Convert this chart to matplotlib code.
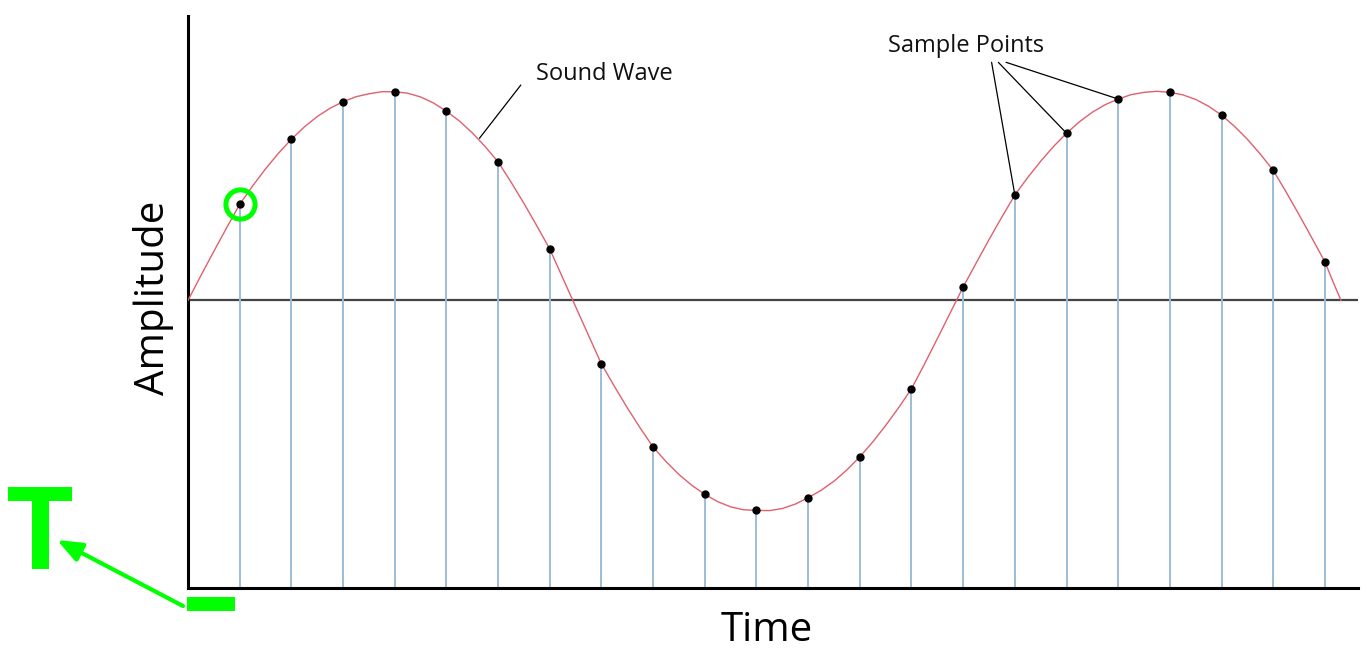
import matplotlib
matplotlib.use("Agg")
import matplotlib.pyplot as plt
from matplotlib.patches import Rectangle, FancyArrowPatch

plt.rcParams['font.family'] = ['Open Sans', 'DejaVu Sans']

# ---- data (time in sample units, amplitude relative to peak) ----
sample_times = [1, 2, 3, 4, 5, 6, 7, 8, 9, 10, 11, 12, 13, 14, 15, 16, 17, 18, 19, 20, 21, 22]
sample_amps = [0.460, 0.772, 0.952, 1.000, 0.907, 0.664, 0.246, -0.305, -0.703, -0.930, -1.007,
               -0.946, -0.750, -0.424, 0.064, 0.505, 0.801, 0.965, 0.997, 0.888, 0.623, 0.184]

# continuous sound wave, read at quarter-sample steps
wave_times = [0, 0.25, 0.5, 0.75, 1, 1.25, 1.5, 1.75, 2, 2.25, 2.5, 2.75, 3, 3.25, 3.5, 3.75,
              4, 4.25, 4.5, 4.75, 5, 5.25, 5.5, 5.75, 6, 6.25, 6.5, 6.75, 7, 7.25, 7.5, 7.75,
              8, 8.25, 8.5, 8.75, 9, 9.25, 9.5, 9.75, 10, 10.25, 10.5, 10.75, 11, 11.25, 11.5,
              11.75, 12, 12.25, 12.5, 12.75, 13, 13.25, 13.5, 13.75, 14, 14.25, 14.5, 14.75,
              15, 15.25, 15.5, 15.75, 16, 16.25, 16.5, 16.75, 17, 17.25, 17.5, 17.75, 18,
              18.25, 18.5, 18.75, 19, 19.25, 19.5, 19.75, 20, 20.25, 20.5, 20.75, 21, 21.25,
              21.5, 21.75, 22, 22.15, 22.31]
wave_amps = [0.0, 0.119, 0.235, 0.349, 0.460, 0.548, 0.630, 0.705, 0.772, 0.831, 0.881, 0.921,
             0.952, 0.976, 0.990, 1.000, 1.000, 0.993, 0.975, 0.946, 0.907, 0.860, 0.803, 0.737,
             0.664, 0.567, 0.465, 0.357, 0.246, 0.108, -0.030, -0.168, -0.305, -0.412, -0.515,
             -0.612, -0.703, -0.773, -0.835, -0.887, -0.930, -0.965, -0.990, -1.004, -1.007,
             -1.008, -0.998, -0.977, -0.946, -0.911, -0.867, -0.813, -0.750, -0.679, -0.600,
             -0.515, -0.424, -0.306, -0.184, -0.060, 0.064, 0.178, 0.291, 0.400, 0.505, 0.589,
             0.667, 0.738, 0.801, 0.856, 0.902, 0.938, 0.965, 0.986, 0.997, 1.002, 0.997, 0.985,
             0.963, 0.930, 0.888, 0.834, 0.772, 0.701, 0.623, 0.519, 0.410, 0.298, 0.184, 0.093,
             0.0]

highlight_index = 0
sound_label = "Sound Wave"
samples_label = "Sample Points"
samples_pointed = [15, 16, 17]  # indices of samples the label points to
x_label = "Time"
y_label = "Amplitude"

xlim = (0, 22.64)
ylim = (-1.379, 1.363)

W, H = 1368, 654
fig = plt.figure(figsize=(W / 100, H / 100), dpi=100)
fig.patch.set_facecolor('white')


def fx(px):
    return px / W


def fy(py):
    return 1 - py / H


ax = fig.add_axes([fx(188), fy(588), (1358 - 188) / W, (588 - 16) / H])
ax.set_xlim(*xlim)
ax.set_ylim(*ylim)
for s in ['top', 'right']:
    ax.spines[s].set_visible(False)
for s in ['left', 'bottom']:
    ax.spines[s].set_color('black')
    ax.spines[s].set_linewidth(2.2)
ax.set_xticks([])
ax.set_yticks([])

# zero line
ax.axhline(0, color='#444444', lw=1.6, zorder=1)

# sample stems
ax.vlines(sample_times, ylim[0], sample_amps, colors='#9dbdd6', lw=1.4, zorder=2)

# sound wave
ax.plot(wave_times, wave_amps, color='#e0606e', lw=1.0, zorder=3, solid_joinstyle='round')

# sample dots
ax.plot(sample_times, sample_amps, 'o', color='black', ms=5, zorder=4)

# highlight circle
ax.plot([sample_times[highlight_index]], [sample_amps[highlight_index]], 'o', ms=21,
        mfc='none', mec='#00ff00', mew=3.6, zorder=5, clip_on=False)

# Sound wave leader
ax.annotate('', xy=(5.64, 0.777), xytext=(6.44, 1.032),
            arrowprops=dict(arrowstyle='-', color='black', lw=0.9, shrinkA=0, shrinkB=0))
ax.text(6.74, 1.055, sound_label, fontsize=17, ha='left', va='baseline', color='#111111')

# Sample points leaders
starts = [(15.55, 1.141), (15.68, 1.141), (15.83, 1.141)]
for (sx, sy), idx in zip(starts, samples_pointed):
    ax.annotate('', xy=(sample_times[idx], sample_amps[idx]), xytext=(sx, sy),
                arrowprops=dict(arrowstyle='-', color='black', lw=0.9, shrinkA=0, shrinkB=0))
ax.text(15.06, 1.192, samples_label, fontsize=17, ha='center', va='baseline', color='#111111')

# axis labels
fig.text(fx(767), fy(641), x_label, fontsize=29, ha='center', va='baseline', color='black')
fig.text(fx(164), fy(298), y_label, fontsize=29, ha='center', va='baseline', rotation=90,
         rotation_mode='anchor', color='black')

# green "T" annotation
green = '#00ff00'
fig.patches.append(Rectangle((fx(8), fy(501)), (72 - 8) / W, (501 - 487) / H,
                             transform=fig.transFigure, color=green, lw=0))
fig.patches.append(Rectangle((fx(32), fy(569)), (49 - 32) / W, (569 - 501) / H,
                             transform=fig.transFigure, color=green, lw=0))
fig.patches.append(Rectangle((fx(187), fy(611)), (235 - 187) / W, (611 - 597) / H,
                             transform=fig.transFigure, color=green, lw=0))
arr = FancyArrowPatch((fx(183), fy(606)), (fx(57), fy(540)), transform=fig.transFigure,
                      arrowstyle='-|>,head_length=1.0,head_width=0.4', mutation_scale=15,
                      color=green, lw=3, shrinkA=0, shrinkB=0)
fig.patches.append(arr)

fig.savefig('out.png', dpi=100, facecolor='white')
